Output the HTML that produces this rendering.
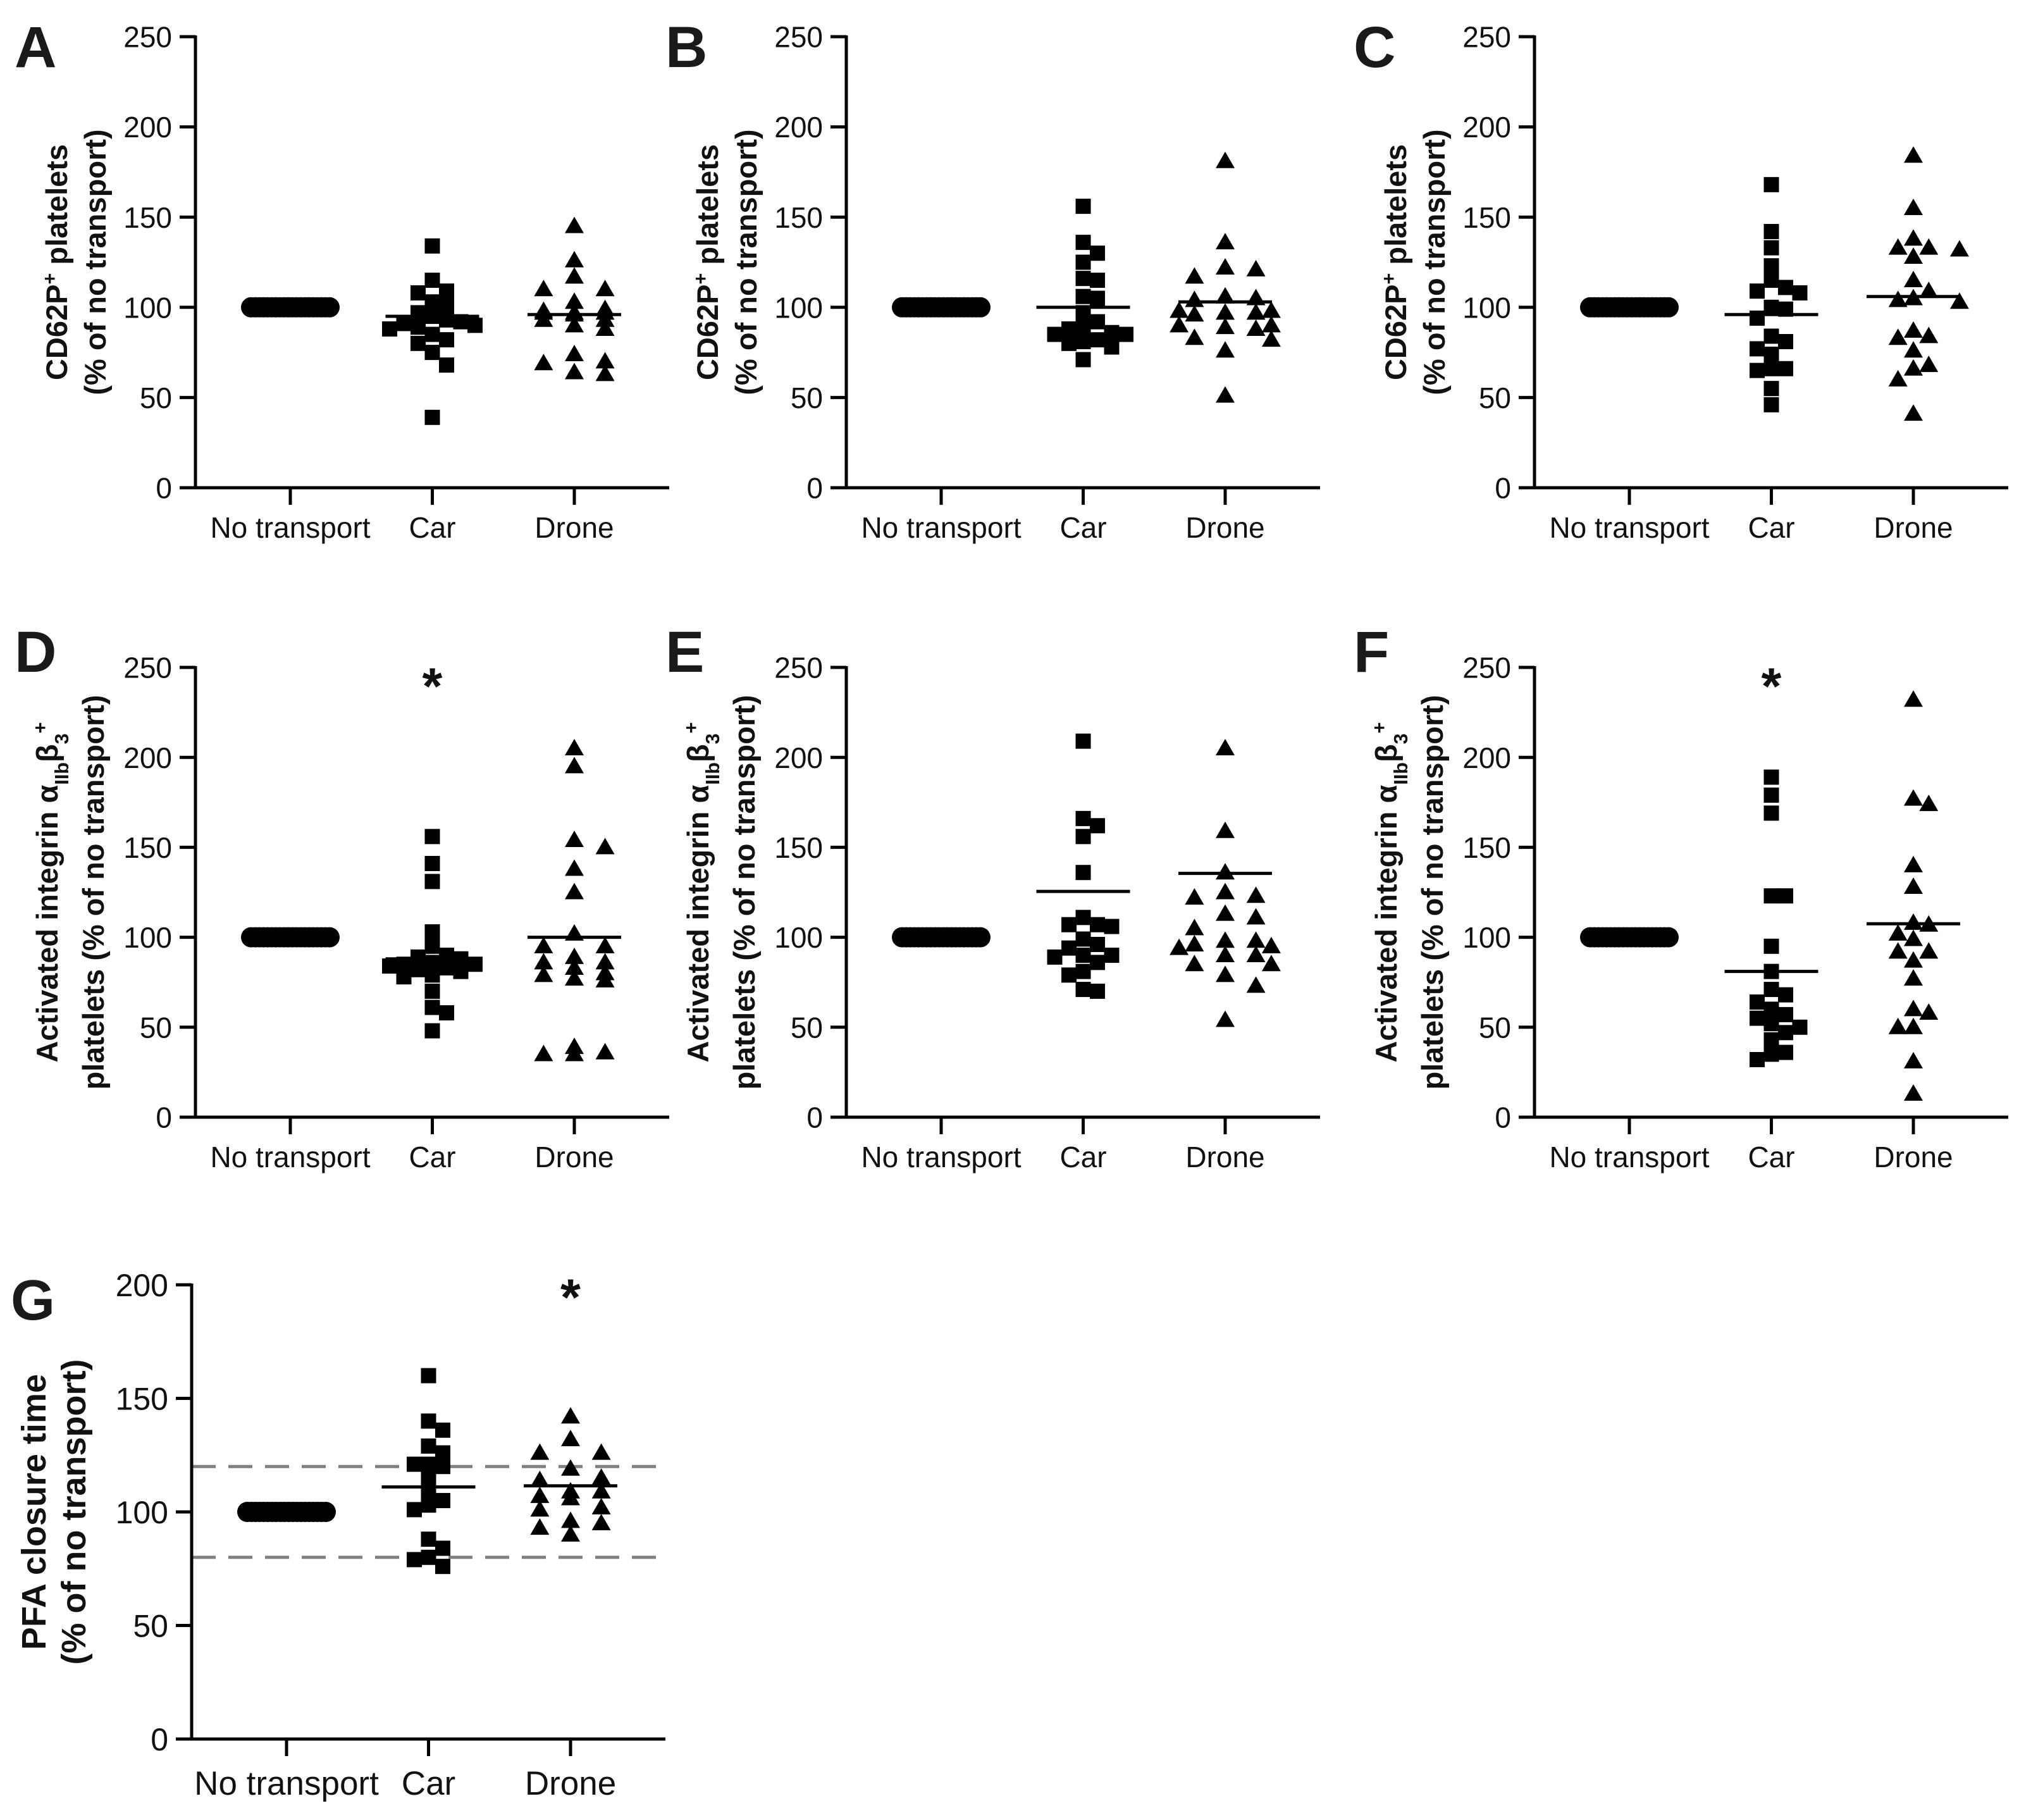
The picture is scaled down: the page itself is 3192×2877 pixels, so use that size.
<!DOCTYPE html>
<html><head><meta charset="utf-8"><title>Platelet transport panels</title>
<style>
html,body{margin:0;padding:0;background:#fff;}
svg{display:block;font-family:"Liberation Sans",Arial,sans-serif;}
</style></head>
<body>
<svg id="fig" width="3192" height="2877" viewBox="0 0 3192 2877" xmlns="http://www.w3.org/2000/svg"></svg>
<script>
// ---- data ----
const categories = ["No transport", "Car", "Drone"];
const ticks250 = [0, 50, 100, 150, 200, 250];
const ticks200 = [0, 50, 100, 150, 200];
const noTransport = [100,100,100,100,100,100,100,100,100,100,100,100,100,100,100,100,100,100,100,100];

const aCar = [134,115,109,108,103,101,97,95,93,92,91,90,89,88,85,82,80,75,68,39];
const aDrone = [145,126,117,110,110,103,99,98,97,97,97,96,93,93,90,88,74,70,69,64,63];
const aLines = [95, 96];

const bCar = [156,136,130,125,116,115,106,105,97,92,89,88,86,85,85,82,81,80,78,71];
const bDrone = [181,136,122,121,117,106,105,104,98,98,97,97,96,90,90,89,88,83,82,76,51];
const bLines = [100, 103];

const cCar = [168,142,133,123,115,111,109,108,100,99,94,84,81,77,74,66,66,65,55,46];
const cDrone = [184,155,138,133,133,132,128,115,109,105,104,103,87,84,83,76,68,66,60,41];
const cLines = [96, 106];

const dCar = [156,141,131,103,95,90,89,88,86,85,85,84,83,82,81,79,78,70,61,58,48];
const dDrone = [205,195,154,150,138,125,102,95,95,89,86,86,83,80,79,77,76,39,36,35,35];
const dLines = [88, 100];

const eCar = [209,166,162,156,136,111,107,107,106,99,96,94,90,90,89,86,81,79,71,70];
const eDrone = [205,159,136,125,123,122,113,111,105,98,98,96,95,94,90,90,85,85,79,73,54];
const eLines = [125.5, 135.5];

const fCar = [189,179,169,123,123,95,81,71,68,64,60,57,55,52,50,47,43,36,35,32];
const fDrone = [232,177,174,140,128,108,107,102,99,92,92,87,77,60,58,50,50,31,13];
const fLines = [81, 107.5];

const gCar = [160,140,136,129,126,121,121,120,115,109,105,103,101,88,84,80,79,76];
const gDrone = [142,132,126,126,119,115,114,109,109,107,106,102,101,96,95,93,90];
const gLines = [111, 111.5];
const gRefLines = [80, 120];

// ---- drawing ----
const NS = "http://www.w3.org/2000/svg";
const svg = document.getElementById("fig");
function el(tag, attrs, parent){
  const e = document.createElementNS(NS, tag);
  for (const k in attrs) e.setAttribute(k, attrs[k]);
  (parent || svg).appendChild(e);
  return e;
}

function drawPanel(p){
  const g = el("g", {});
  
  
  const sy = v => p.yBot - v / p.max * (p.yBot - p.yTop);
  const sx = i => p.x0 + 150 + i * 224.5;
  const xEnd = p.x0 + 749;

  const L = el("text", {x: p.x0 - 286, y: p.letterY, "font-size": p.letterSize, "font-weight": "bold", fill: "#1a1a1a"}, g);
  L.textContent = p.letter;
  
  

  if (p.refLines){
    p.refLines.forEach(v => {
      const r = el("line", {x1: p.x0, x2: xEnd - 5, y1: sy(v), y2: sy(v), stroke: "#808080", "stroke-width": 5, "stroke-dasharray": "38 20"}, g);
      
      
    });
  }

  const ya = el("line", {x1: p.x0, x2: p.x0, y1: p.yTop - 2, y2: p.yBot + 2, stroke: "#000", "stroke-width": 5}, g);
  
  
  const xa = el("line", {x1: p.x0 - 25, x2: xEnd, y1: p.yBot, y2: p.yBot, stroke: "#000", "stroke-width": 5}, g);
  
  

  p.ticks.forEach(t => {
    const tl = el("line", {x1: p.x0 - 25, x2: p.x0, y1: sy(t), y2: sy(t), stroke: "#000", "stroke-width": 5}, g);
    
    
    const tx = el("text", {x: p.x0 - 37, y: sy(t) + p.tickFont * 0.36, "text-anchor": "end", "font-size": p.tickFont, fill: "#111"}, g);
    tx.textContent = t;
    
    
  });
  categories.forEach((c, i) => {
    const tl = el("line", {x1: sx(i), x2: sx(i), y1: p.yBot, y2: p.yBot + 27, stroke: "#000", "stroke-width": 5}, g);
    
    
    const tx = el("text", {x: sx(i), y: p.yBot + p.xLabelDy, "text-anchor": "middle", "font-size": p.xFont, fill: "#111"}, g);
    tx.textContent = c;
    
    
  });

  const cy = (p.yTop + p.yBot) / 2;
  p.title.forEach((line, li) => {
    const bx = p.x0 + p.titleOff[li];
    const t = el("text", {transform: "translate(" + bx + "," + cy + ") rotate(-90)", "text-anchor": "middle", "font-size": p.titleFont, "font-weight": "bold", fill: "#111"}, g);
    
    
    line.forEach(seg => {
      const ts = el("tspan", {}, t);
      if (seg.sup){ ts.setAttribute("baseline-shift", "super"); ts.setAttribute("font-size", p.titleFont * 0.65); }
      if (seg.sub){ ts.setAttribute("baseline-shift", "sub"); ts.setAttribute("font-size", p.titleFont * 0.65); }
      ts.textContent = seg.t;
    });
  });

  const nt = el("g", {}, g);
  
  
  noTransport.forEach((v, i) => {
    const off = (i / (noTransport.length - 1) - 0.5) * 124;
    const c = el("circle", {cx: sx(0) + off, cy: sy(v), r: 16, fill: "#000"}, nt);
    
    
  });

  // compact swarm: limited to +/-3 columns, otherwise least-overlap column
  function swarm(vals, cx, size){
    const order = vals.map((v, i) => i).sort((a, b) => vals[b] - vals[a]);
    const placed = [];
    const out = new Array(vals.length);
    const step = size * 0.9;
    const cols = [0, 1, -1, 2, -2, 3, -3];
    order.forEach(i => {
      const y = sy(vals[i]);
      let best = null, bestScore = Infinity;
      for (const m of cols){
        const x = cx + m * step;
        let score = 0;
        placed.forEach(q => {
          const dx = Math.abs(q.x - x), dy = Math.abs(q.y - y);
          if (dx < size * 0.9 && dy < size * 0.85) score += (size - dy);
        });
        if (score === 0){ best = x; bestScore = 0; break; }
        if (score < bestScore){ bestScore = score; best = x; }
      }
      placed.push({x: best, y}); out[i] = {x: best, y};
    });
    return out;
  }

  const carG = el("g", {}, g);
  
  
  swarm(p.car, sx(1), 25).forEach(pt => {
    const r = el("rect", {x: pt.x - 12, y: pt.y - 12, width: 24, height: 24, fill: "#000"}, carG);
    
    
  });
  const drG = el("g", {}, g);
  
  
  swarm(p.drone, sx(2), 27).forEach(pt => {
    const tr = el("polygon", {points: (pt.x - 15) + "," + (pt.y + 11) + " " + (pt.x + 15) + "," + (pt.y + 11) + " " + pt.x + "," + (pt.y - 15), fill: "#000"}, drG);
    
    
  });

  p.lines.forEach((v, i) => {
    const ml = el("line", {x1: sx(i + 1) - 74, x2: sx(i + 1) + 74, y1: sy(v), y2: sy(v), stroke: "#000", "stroke-width": 5}, g);
    
    
  });

  if (p.star !== undefined){
    const st = el("text", {x: sx(p.star), y: p.starTop + 58, "text-anchor": "middle", "font-size": 82, "font-weight": "bold", fill: "#111"}, g);
    st.textContent = "*";
    
    
  }
}

const cdTitle = [[{t: "CD62P"}, {t: "+", sup: true}, {t: " platelets"}], [{t: "(% of no transport)"}]];
const itTitle = [[{t: "Activated integrin α"}, {t: "IIb", sub: true}, {t: "β"}, {t: "3", sub: true}, {t: "+", sup: true}], [{t: "platelets (% of no transport)"}]];
const pfaTitle = [[{t: "PFA closure time"}], [{t: "(% of no transport)"}]];

const row1 = {yTop: 58, yBot: 771, max: 250, ticks: ticks250, letterY: 106, letterSize: 92, tickFont: 46, xFont: 46, xLabelDy: 79, titleFont: 47, title: cdTitle, titleOff: [-203, -142]};
const row2 = {yTop: 1055, yBot: 1766, max: 250, ticks: ticks250, letterY: 1062, letterSize: 92, tickFont: 46, xFont: 46, xLabelDy: 79, titleFont: 47, title: itTitle, titleOff: [-218, -145]};

drawPanel(Object.assign({}, row1, {letter: "A", x0: 309, car: aCar, drone: aDrone, lines: aLines}));
drawPanel(Object.assign({}, row1, {letter: "B", x0: 1338, car: bCar, drone: bDrone, lines: bLines}));
drawPanel(Object.assign({}, row1, {letter: "C", x0: 2426, car: cCar, drone: cDrone, lines: cLines}));
drawPanel(Object.assign({}, row2, {letter: "D", x0: 309, car: dCar, drone: dDrone, lines: dLines, star: 1, starTop: 1055}));
drawPanel(Object.assign({}, row2, {letter: "E", x0: 1338, car: eCar, drone: eDrone, lines: eLines}));
drawPanel(Object.assign({}, row2, {letter: "F", x0: 2426, car: fCar, drone: fDrone, lines: fLines, star: 1, starTop: 1055}));
drawPanel({letter: "G", x0: 303, yTop: 2031, yBot: 2749, max: 200, ticks: ticks200, letterY: 2086, letterSize: 90, tickFont: 50, xFont: 53, xLabelDy: 88, titleFont: 54, title: pfaTitle, titleOff: [-231, -168], car: gCar, drone: gDrone, lines: gLines, refLines: gRefLines, star: 2, starTop: 2021});
</script>
</body></html>
